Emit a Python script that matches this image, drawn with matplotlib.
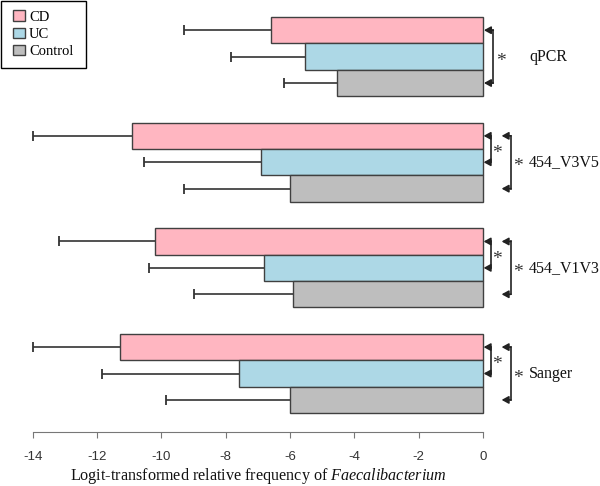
import numpy as np
import matplotlib
matplotlib.use('Agg')
import matplotlib.pyplot as plt
from matplotlib.patches import Patch, Rectangle

plt.rcParams['font.family'] = 'Liberation Serif'
plt.rcParams['mathtext.fontset'] = 'custom'
plt.rcParams['mathtext.rm'] = 'Liberation Serif'
plt.rcParams['mathtext.it'] = 'Liberation Serif:italic'
plt.rcParams['axes.unicode_minus'] = False

# data (logit-transformed relative frequency)
methods = ['qPCR', '454_V3V5', '454_V1V3', 'Sanger']
groups = ['CD', 'UC', 'Control']
cd_mean = [-6.6, -10.9, -10.2, -11.3]
cd_low = [-9.3, -14.0, -13.2, -14.0]
uc_mean = [-5.55, -6.9, -6.8, -7.6]
uc_low = [-7.85, -10.55, -10.4, -11.85]
ctrl_mean = [-4.55, -6.0, -5.9, -6.0]
ctrl_low = [-6.2, -9.3, -9.0, -9.85]
colors = ['#FFB6C1', '#ADD8E6', '#BEBEBE']

fig = plt.figure(figsize=(6, 4.86), dpi=100)
ax = fig.add_axes([0, 0, 1, 1])

means = [cd_mean, uc_mean, ctrl_mean]
lows = [cd_low, uc_low, ctrl_low]
for k in range(3):
    y = np.arange(4) * 4 + k
    m = np.array(means[k])
    lo = np.array(lows[k])
    ax.barh(y, m, height=1.0, color=colors[k], edgecolor='#404040',
            linewidth=1.0, zorder=2)
    # one-sided error bar: line to the left with a cap at the end only
    ax.hlines(y, lo, m, color='#333333', lw=1.2, zorder=1)
    ax.plot(lo, y, ls='none', marker='|', markersize=7, markeredgewidth=1.3,
            color='#333333', zorder=1)


def bracket(y1, y2, xv, xt, xs):
    ax.plot([xv, xv], [y1, y2], color='#222222', lw=1.2, zorder=3)
    for yy in (y1, y2):
        ax.annotate('', xy=(xt, yy), xytext=(xv, yy),
                    arrowprops=dict(arrowstyle='-|>,head_length=0.4,head_width=0.22',
                                    color='#222222', lw=1.2, shrinkA=0, shrinkB=0,
                                    mutation_scale=10))
    ax.annotate('*', xy=(xs, (y1 + y2) / 2), xytext=(0, -6.5),
                textcoords='offset points', ha='center', va='baseline',
                fontsize=14, color='#333333')


for g, name in enumerate(methods):
    base = g * 4
    if g == 0:
        bracket(base, base + 2, 0.32, 0.03, 0.55)
    else:
        bracket(base, base + 1, 0.24, 0.02, 0.42)
        bracket(base, base + 2, 0.87, 0.58, 1.1)
    ax.text(1.43, base + 1, name, ha='left', va='center', fontsize=11.5,
            color='#111111')

ax.set_xlim(-15.02, 3.64)
ax.set_ylim(17.26, -1.144)
for s in ['left', 'right', 'top']:
    ax.spines[s].set_visible(False)
ax.spines['bottom'].set_position(('data', 15.22))
ax.spines['bottom'].set_bounds(-14, 0)
ax.spines['bottom'].set_color('#777777')
ax.set_yticks([])
ax.set_xticks(np.arange(-14, 1, 2))
ax.tick_params(axis='x', direction='out', length=4.3, color='#777777',
               labelsize=9.5, labelcolor='#333333', pad=9)
for lab in ax.get_xticklabels():
    lab.set_family('Liberation Sans')

ax.text(-7, 16.9, r'Logit-transformed relative frequency of $\mathit{Faecalibacterium}$',
        ha='center', va='center', fontsize=11.6, color='#111111')

# legend with a box drawn to the size seen in the reference
W, H = 600.0, 486.0
fig.patches.append(Rectangle((1 / W, 1 - 68 / H), 85 / W, 67 / H, transform=fig.transFigure,
                             facecolor='white', edgecolor='black', lw=1.0, zorder=5))
handles = [Patch(facecolor=colors[k], edgecolor='#404040', label=groups[k]) for k in range(3)]
leg = fig.legend(handles=handles, loc='upper left', bbox_to_anchor=(13 / W, 1 - 10.5 / H),
                 fontsize=10.5, frameon=False,
                 handlelength=0.8, handleheight=0.75, handletextpad=0.3,
                 labelspacing=0.25, borderpad=0, borderaxespad=0)
leg.set_zorder(6)

fig.savefig('out.png', dpi=100)
